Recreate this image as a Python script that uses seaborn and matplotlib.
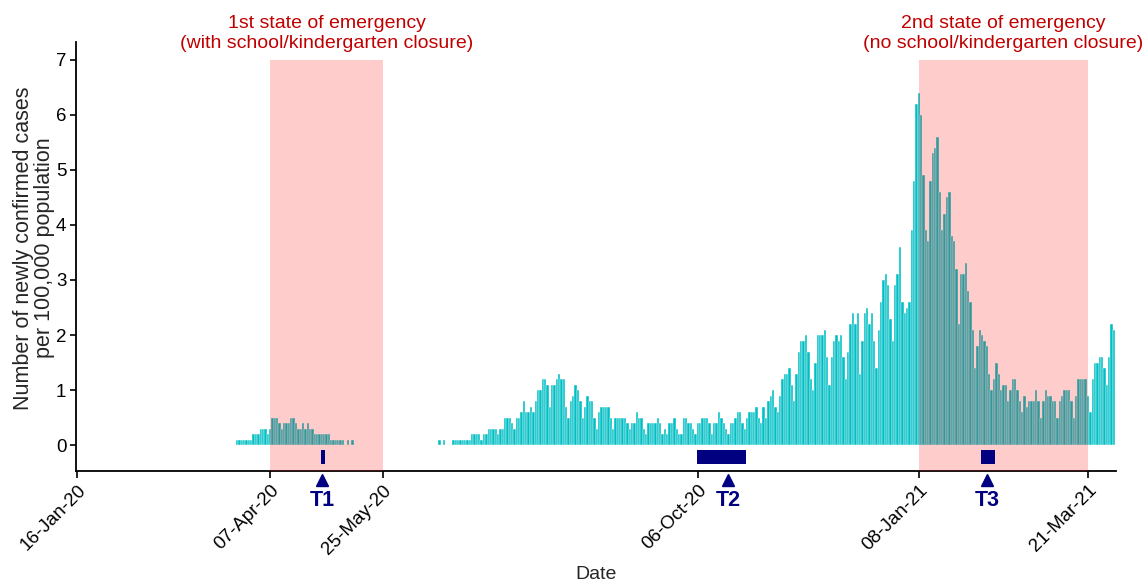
import matplotlib
matplotlib.use("Agg")
import matplotlib.pyplot as plt
import matplotlib.dates as mdates
import pandas as pd
import seaborn as sns

# ---------------- data ----------------
# daily newly confirmed cases per 100,000 population
wave1_start = "2020-03-24"
wave1_cases = [0.1, 0.1, 0.1, 0.1, 0.1, 0.1, 0.1, 0.2, 0.2, 0.2,
               0.3, 0.3, 0.3, 0.2, 0.3, 0.5, 0.5, 0.5, 0.4, 0.3,
               0.4, 0.4, 0.4, 0.5, 0.5, 0.4, 0.3, 0.3, 0.4, 0.3,
               0.4, 0.3, 0.3, 0.2, 0.2, 0.2, 0.2, 0.2, 0.2, 0.2,
               0.1, 0.1, 0.1, 0.1, 0.1, 0.1, 0.0, 0.1, 0.0, 0.1]

wave2_start = "2020-06-18"
wave2_cases = [0.1, 0.0, 0.1, 0.0, 0.0, 0.0, 0.1, 0.1, 0.1, 0.1,
               0.1, 0.1, 0.1, 0.1, 0.2, 0.2, 0.2, 0.2, 0.1, 0.2,
               0.2, 0.3, 0.3, 0.3, 0.3, 0.2, 0.3, 0.3, 0.5, 0.5,
               0.5, 0.4, 0.3, 0.5, 0.5, 0.6, 0.8, 0.6, 0.6, 0.7,
               0.6, 0.8, 1.0, 1.0, 1.2, 1.2, 1.1, 0.7, 1.1, 1.1,
               1.2, 1.3, 1.2, 1.2, 0.7, 0.5, 0.8, 0.9, 1.1, 1.0,
               0.8, 0.5, 0.7, 0.9, 0.8, 0.8, 0.5, 0.3, 0.6, 0.7,
               0.7, 0.7, 0.7, 0.5, 0.3, 0.5, 0.5, 0.5, 0.5, 0.5,
               0.4, 0.3, 0.4, 0.4, 0.6, 0.5, 0.5, 0.3, 0.2, 0.4,
               0.4, 0.4, 0.4, 0.5, 0.4, 0.2, 0.3, 0.2, 0.4, 0.4,
               0.5, 0.3, 0.2, 0.2, 0.5, 0.5, 0.4]

wave3_start = "2020-10-03"
wave3_cases = [0.4, 0.3, 0.2, 0.4, 0.4, 0.5, 0.5, 0.5, 0.4, 0.2,
               0.4, 0.4, 0.6, 0.5, 0.4, 0.3, 0.2, 0.4, 0.4, 0.5,
               0.6, 0.6, 0.4, 0.3, 0.5, 0.6, 0.6, 0.6, 0.7, 0.5,
               0.4, 0.7, 0.5, 0.8, 0.9, 1.0, 0.7, 0.6, 0.9, 1.2,
               1.3, 1.3, 1.4, 1.1, 0.8, 1.3, 1.7, 1.9, 1.9, 2.0,
               1.7, 1.2, 1.0, 1.5, 2.0, 2.0, 2.0, 2.1, 1.6, 1.1,
               1.6, 1.9, 2.0, 1.9, 2.0, 1.6, 1.2, 1.7, 2.2, 2.4,
               2.2, 2.4, 1.3, 1.9, 2.4, 2.5, 2.2, 2.4, 1.9, 1.4,
               2.1, 2.6, 3.0, 3.1, 2.9, 2.3, 1.9, 2.9, 3.1, 3.6,
               2.6, 2.4, 2.5, 2.6, 3.9, 4.8, 6.2, 6.4, 6.0, 4.9,
               3.9, 3.7, 4.8, 5.3, 5.4, 5.6, 4.6, 3.9, 4.2, 4.5,
               4.6, 3.8, 3.7, 3.2, 2.2, 3.1, 3.1, 3.3, 2.8, 2.6,
               2.1, 1.4, 1.8, 2.1, 2.0, 1.9, 1.8, 1.3, 1.0, 1.2,
               1.5, 1.3, 1.0, 1.1, 1.1, 0.8, 1.0, 1.2, 1.2, 1.0,
               0.8, 0.6, 0.9, 0.7, 0.8, 0.8, 0.8, 1.0, 0.8, 0.5,
               0.8, 1.0, 0.9, 0.9, 0.8, 0.8, 0.5, 0.8, 0.9, 1.0,
               1.0, 1.0, 0.8, 0.5, 0.9, 1.2, 1.2, 1.2, 1.2, 0.9,
               0.6, 1.2, 1.5, 1.5, 1.6, 1.6, 1.4, 1.1, 1.6, 2.2, 2.1]

emergency_starts = ["2020-04-07", "2021-01-08"]
emergency_ends = ["2020-05-25", "2021-03-21"]
emergency_labels = ["1st state of emergency\n(with school/kindergarten closure)",
                    "2nd state of emergency\n(no school/kindergarten closure)"]

survey_labels = ["T1", "T2", "T3"]
survey_first = ["2020-04-29", "2020-10-06", "2021-02-04"]
survey_last = ["2020-04-30", "2020-10-26", "2021-02-09"]
survey_marks = ["2020-04-29", "2020-10-19", "2021-02-06"]

tick_dates = ["2020-01-16", "2020-04-07", "2020-05-25",
              "2020-10-06", "2021-01-08", "2021-03-21"]
y_ticks = [0, 1, 2, 3, 4, 5, 6, 7]

# ---------------- style ----------------
sns.set_style("ticks")
plt.rcParams["font.family"] = ["Liberation Sans", "DejaVu Sans"]

BAR = "#00BFC4"
NAVY = "#000080"
DARKRED = "#C00000"

frames = []
for s, v in ((wave1_start, wave1_cases), (wave2_start, wave2_cases),
             (wave3_start, wave3_cases)):
    frames.append(pd.DataFrame({"date": pd.date_range(s, periods=len(v), freq="D"),
                                "cases": v}))
df = pd.concat(frames, ignore_index=True)
df = df[df["cases"] > 0].copy()
df["x"] = mdates.date2num(df["date"])

fig = plt.figure(figsize=(11.48, 5.83), dpi=100)
ax = fig.add_axes([0.0662, 0.1926, 0.9059, 0.7354])

sns.barplot(data=df, x="x", y="cases", native_scale=True, width=1.0,
            color=BAR, saturation=1, edgecolor="white", linewidth=0.3,
            errorbar=None, ax=ax, zorder=2)

y_lo, y_hi = -0.467, 7.327
ax.set_ylim(y_lo, y_hi)
x0 = mdates.date2num(pd.Timestamp("2020-01-16"))
ax.set_xlim(x0 - 0.6, x0 + 441.9)

# state of emergency shading (drawn over bars, semi-transparent)
for s, e, lab in zip(emergency_starts, emergency_ends, emergency_labels):
    xs = mdates.date2num(pd.Timestamp(s))
    xe = mdates.date2num(pd.Timestamp(e))
    ax.fill_between([xs, xe], y_lo, 7.0, color="red", alpha=0.2, lw=0, zorder=3)
    ax.text((xs + xe) / 2, 7.15, lab, ha="center", va="bottom", color=DARKRED,
            fontsize=14, linespacing=1.2, clip_on=False)

# survey periods
for lab, f, l, m in zip(survey_labels, survey_first, survey_last, survey_marks):
    xf = mdates.date2num(pd.Timestamp(f)) - 0.5
    xl = mdates.date2num(pd.Timestamp(l)) + 0.5
    ax.fill_between([xf, xl], -0.35, -0.09, color=NAVY, lw=0, zorder=4)
    xm = mdates.date2num(pd.Timestamp(m))
    ax.plot([xm], [-0.63], marker="^", ms=9, color=NAVY, clip_on=False,
            zorder=5, ls="none")
    ax.text(xm, -1.0, lab, ha="center", va="center", fontsize=15.5,
            fontweight="bold", color=NAVY, clip_on=False)

# axes
ax.set_xticks(mdates.date2num(pd.to_datetime(tick_dates)))
ax.set_xticklabels([pd.Timestamp(d).strftime("%d-%b-%y") for d in tick_dates],
                   rotation=45, ha="right", va="top", rotation_mode="anchor",
                   fontsize=13.5)
ax.set_yticks(y_ticks)
ax.set_yticklabels([str(t) for t in y_ticks], fontsize=13.5)
ax.tick_params(axis="x", length=5, width=1.2, pad=3, colors="black")
ax.tick_params(axis="y", length=4, width=1.2, pad=3, colors="black")
for side in ("top", "right"):
    ax.spines[side].set_visible(False)
for side in ("left", "bottom"):
    ax.spines[side].set_linewidth(1.3)
    ax.spines[side].set_color("black")

ax.set_xlabel("Date", fontsize=14)
ax.xaxis.set_label_coords(0.5, -0.222)
ax.set_ylabel("Number of newly confirmed cases\nper 100,000 population",
              fontsize=15.5, linespacing=1.0)
ax.yaxis.set_label_coords(-0.020, 0.52)

fig.savefig("out.png", dpi=100)
